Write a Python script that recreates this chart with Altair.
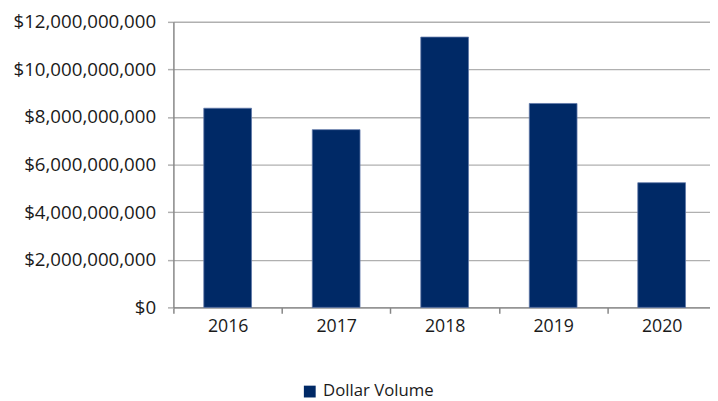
import altair as alt
import pandas as pd

years = ["2016", "2017", "2018", "2019", "2020"]
volumes = [8.37e9, 7.47e9, 11.36e9, 8.57e9, 5.24e9]
series_name = "Dollar Volume"
y_ticks = [0, 2e9, 4e9, 6e9, 8e9, 10e9, 12e9]

df = pd.DataFrame({"Year": years, "Volume": volumes, "Series": [series_name] * len(years)})

FONT = "Open Sans"
BAR = "#002966"

chart = (
    alt.Chart(df)
    .mark_bar(stroke="#5F78A8", strokeWidth=0.8, width=alt.RelativeBandSize(0.44))
    .encode(
        x=alt.X(
            "Year:N",
            title=None,
            scale=alt.Scale(paddingInner=0, paddingOuter=0, range=[0, 551]),
            axis=alt.Axis(
                labelAngle=0,
                labelFont=FONT,
                labelFontSize=18,
                labelColor="#1a1a1a",
                labelPadding=5,
                domainColor="#868686",
                domainWidth=1.5,
                tickColor="#868686",
                tickWidth=1.5,
                tickSize=6,
                tickBand="extent",
                grid=False,
            ),
        ),
        y=alt.Y(
            "Volume:Q",
            title=None,
            scale=alt.Scale(domain=[0, 12e9], nice=False),
            axis=alt.Axis(
                values=y_ticks,
                format="$,.0f",
                labelFont=FONT,
                labelFontSize=19,
                labelColor="#1a1a1a",
                labelPadding=12,
                domainColor="#868686",
                domainWidth=1.5,
                tickColor="#B0B0B0",
                tickWidth=1.5,
                tickSize=6,
                gridColor="#B0B0B0",
                gridWidth=1.5,
            ),
        ),
        color=alt.Color(
            "Series:N",
            scale=alt.Scale(range=[BAR]),
            legend=alt.Legend(
                title=None,
                orient="none",
                legendX=130,
                legendY=367,
                symbolType="square",
                symbolSize=144,
                symbolStrokeWidth=0,
                labelFont=FONT,
                labelFontSize=17,
                labelColor="#1a1a1a",
                labelOffset=5,
            ),
        ),
    )
    .properties(
        width=545,
        height=290,
        autosize=alt.AutoSizeParams(type="none"),
        padding={"left": 168, "top": 11, "right": 0, "bottom": 92},
    )
    .configure_view(stroke=None)
)

chart.save("out.html", embed_options={"renderer": "svg", "actions": False})
